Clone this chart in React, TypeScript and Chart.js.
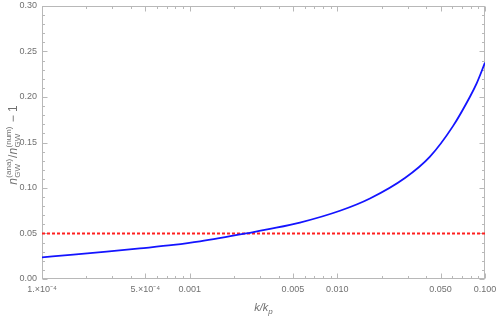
import React, { useEffect, useRef } from "react";
import { Chart, registerables } from "chart.js";

Chart.register(...registerables);

// ---- data ----
const kValues = [
  1e-4, 1.63e-4, 2.74e-4, 4.6e-4, 7.75e-4, 1.175e-3, 2.56e-3, 3.5e-3, 5.58e-3,
  1.042e-2, 1.663e-2, 2.87e-2, 4.24e-2, 6.07e-2, 7.91e-2, 8.78e-2, 0.1,
];
const ratioValues = [
  0.0238, 0.0267, 0.03, 0.0336, 0.0374, 0.0413, 0.0508, 0.055, 0.062,
  0.075, 0.0885, 0.111, 0.1345, 0.168, 0.2003, 0.215, 0.2377,
];
const thresholdK = [1e-4, 0.1];
const thresholdValues = [0.05, 0.05];

const xMin = 1e-4;
const xMax = 0.1;
const yMin = 0;
const yMax = 0.3;

const xTickValues = [1e-4, 5e-4, 1e-3, 5e-3, 1e-2, 5e-2, 1e-1];
const xTickLabels = ["1.×10⁻⁴", "5.×10⁻⁴", "0.001", "0.005", "0.010", "0.050", "0.100"];
const yTickValues = [0, 0.05, 0.1, 0.15, 0.2, 0.25, 0.3];
const yTickLabels = ["0.00", "0.05", "0.10", "0.15", "0.20", "0.25", "0.30"];
const yMinorStep = 0.01;

const FRAME = "#b8b8b8";
const LABEL = "#707070";
const FONT = "Liberation Sans";

const framePlugin = {
  id: "mmaFrame",
  beforeDatasetsDraw(chart: any) {
    const { ctx, chartArea: a, scales } = chart;
    const xs = scales.x;
    const ys = scales.y;
    ctx.save();
    ctx.strokeStyle = FRAME;
    ctx.lineWidth = 1;
    ctx.beginPath();
    const L = Math.round(a.left) + 0.5;
    const R = Math.round(a.right) - 0.5;
    const T = Math.round(a.top) + 0.5;
    const B = Math.round(a.bottom) - 0.5;
    for (let e = -4; e <= -1; e++) {
      for (let m = 1; m <= 9; m++) {
        const v = m * Math.pow(10, e);
        if (v < xMin * 0.999 || v > xMax * 1.001) continue;
        const major = xTickValues.some((t) => Math.abs(t - v) / v < 1e-6);
        const len = major ? 5 : 2.5;
        const px = Math.round(xs.getPixelForValue(v)) + 0.5;
        ctx.moveTo(px, B);
        ctx.lineTo(px, B - len);
        ctx.moveTo(px, T);
        ctx.lineTo(px, T + len);
      }
    }
    const n = Math.round((yMax - yMin) / yMinorStep);
    for (let i = 0; i <= n; i++) {
      const v = yMin + i * yMinorStep;
      const major = i % 5 === 0;
      const len = major ? 5 : 2.5;
      const py = Math.round(ys.getPixelForValue(v)) + 0.5;
      ctx.moveTo(L, py);
      ctx.lineTo(L + len, py);
      ctx.moveTo(R, py);
      ctx.lineTo(R - len, py);
    }
    ctx.stroke();
    ctx.strokeRect(L, T, R - L, B - T);
    ctx.restore();
  },
  afterDraw(chart: any) {
    const { ctx, chartArea: a } = chart;
    ctx.save();
    ctx.fillStyle = LABEL;
    ctx.textBaseline = "alphabetic";
    ctx.textAlign = "left";
    // x title: k/k_p
    const main = `italic 11px ${FONT}`;
    const small = `italic 8px ${FONT}`;
    ctx.font = main;
    const w1 = ctx.measureText("k/k").width;
    ctx.font = small;
    const w2 = ctx.measureText("p").width;
    const cx = (a.left + a.right) / 2;
    const x0 = cx - (w1 + w2) / 2;
    const by = 311;
    ctx.font = main;
    ctx.fillText("k/k", x0, by);
    ctx.font = small;
    ctx.fillText("p", x0 + w1, by + 3);

    // y title: n_GW^(ana)/n_GW^(num) − 1, rotated
    const cy = 145;
    ctx.translate(17, cy);
    ctx.rotate(-Math.PI / 2);
    const nFont = `italic 12px ${FONT}`;
    const sFont = `8px ${FONT}`;
    const rFont = `12px ${FONT}`;
    const measure = (t: string, f: string) => {
      ctx.font = f;
      return ctx.measureText(t).width;
    };
    const pieces: any[] = [
      { kind: "n" },
      { kind: "ss", sup: "(ana)", sub: "GW" },
      { kind: "txt", t: "/" },
      { kind: "n" },
      { kind: "ss", sup: "(num)", sub: "GW" },
      { kind: "txt", t: " − 1" },
    ];
    let total = 0;
    const widths = pieces.map((p: any) => {
      let w = 0;
      if (p.kind === "n") w = measure("n", nFont) + 0.5;
      else if (p.kind === "ss") w = Math.max(measure(p.sup, sFont), measure(p.sub, sFont)) + 1;
      else w = measure(p.t, rFont);
      total += w;
      return w;
    });
    let px = -total / 2;
    pieces.forEach((p: any, i: number) => {
      if (p.kind === "n") {
        ctx.font = nFont;
        ctx.fillText("n", px, 0);
      } else if (p.kind === "ss") {
        ctx.font = sFont;
        ctx.fillText(p.sup, px, -6);
        ctx.fillText(p.sub, px, 3);
      } else {
        ctx.font = rFont;
        ctx.fillText(p.t, px, 0);
      }
      px += widths[i];
    });
    ctx.restore();
  },
};

export default function App() {
  const ref = useRef<HTMLCanvasElement | null>(null);
  useEffect(() => {
    document.body.style.margin = "0";
    if (!ref.current) return;
    const chart = new Chart(ref.current, {
      type: "scatter",
      data: {
        datasets: [
          {
            label: "ratio",
            data: kValues.map((k, i) => ({ x: k, y: ratioValues[i] })),
            showLine: true,
            borderColor: "#1414ff",
            borderWidth: 1.8,
            pointRadius: 0,
            cubicInterpolationMode: "monotone",
          },
          {
            label: "threshold",
            data: thresholdK.map((k, i) => ({ x: k, y: thresholdValues[i] })),
            showLine: true,
            borderColor: "#ff2020",
            borderWidth: 2,
            borderDash: [3, 2],
            pointRadius: 0,
          },
        ],
      },
      options: {
        animation: false,
        responsive: false,
        maintainAspectRatio: false,
        layout: { padding: { left: 0, right: 13, top: 6, bottom: 0 } },
        plugins: { legend: { display: false }, tooltip: { enabled: false } },
        scales: {
          x: {
            type: "logarithmic",
            min: xMin,
            max: xMax,
            grid: { display: false, drawTicks: false },
            border: { display: false },
            afterBuildTicks: (scale: any) => {
              scale.ticks = xTickValues.map((v) => ({ value: v }));
            },
            afterFit: (scale: any) => {
              scale.height = 38;
              scale.paddingLeft = 0;
              scale.paddingRight = 0;
            },
            ticks: {
              autoSkip: false,
              maxRotation: 0,
              padding: 5,
              color: LABEL,
              font: { family: FONT, size: 9 },
              callback: (v: any) => {
                const i = xTickValues.findIndex((t) => Math.abs(t - v) / t < 1e-6);
                return i >= 0 ? xTickLabels[i] : "";
              },
            },
          },
          y: {
            type: "linear",
            min: yMin,
            max: yMax,
            grid: { display: false, drawTicks: false },
            border: { display: false },
            afterBuildTicks: (scale: any) => {
              scale.ticks = yTickValues.map((v) => ({ value: v }));
            },
            afterFit: (scale: any) => {
              scale.width = 42;
              scale.paddingTop = 0;
              scale.paddingBottom = 0;
            },
            ticks: {
              padding: 5,
              color: LABEL,
              font: { family: FONT, size: 9 },
              callback: (v: any) => {
                const i = yTickValues.findIndex((t) => Math.abs(t - v) < 1e-9);
                return i >= 0 ? yTickLabels[i] : "";
              },
            },
          },
        },
      },
      plugins: [framePlugin],
    } as any);
    return () => chart.destroy();
  }, []);
  return (
    <div style={{ width: 498, height: 317 }}>
      <canvas ref={ref} width={498} height={317} />
    </div>
  );
}
